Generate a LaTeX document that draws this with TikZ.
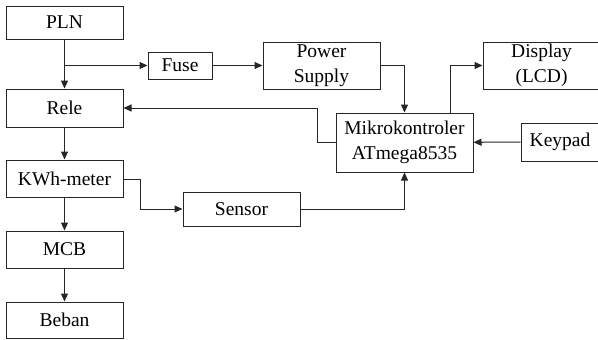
\documentclass[tikz,border=0pt]{standalone}
\usepackage{fontspec}
\setmainfont{Liberation Serif}
\usetikzlibrary{arrows.meta,calc}
\begin{document}
\begin{tikzpicture}[x=1pt,y=-1pt,
  box/.style={draw=black!85,line width=1pt,inner sep=0pt,align=center,
    font=\fontsize{19.5}{24.5}\selectfont},
  conn/.style={draw=black!85,line width=1pt,-{Triangle[length=8pt,width=7pt]}}]
\useasboundingbox (0,0) rectangle (598,340);
\node[box,minimum width=117,minimum height=33] (pln) at (64.5,22.5) {PLN};
\node[box,minimum width=64,minimum height=27] (fuse) at (180,65.5) {Fuse};
\node[box,minimum width=117,minimum height=47] (ps) at (321.5,65.5) {Power\\Supply};
\node[box,minimum width=121,minimum height=47] (disp) at (543.5,65.5)
  {\makebox[117pt]{Display}\hspace*{4pt}\\\makebox[117pt]{(LCD)}\hspace*{4pt}};
\node[box,minimum width=117,minimum height=38] (rele) at (64.5,108) {Rele};
\node[box,minimum width=137,minimum height=59] (mik) at (404.5,142.5) {Mikrokontroler\\ATmega8535};
\node[box,minimum width=82,minimum height=38] (key) at (562,142) {\makebox[78pt]{Keypad}\hspace*{4pt}};
\node[box,minimum width=117,minimum height=37] (kwh) at (64.5,178.5) {KWh-meter};
\node[box,minimum width=117,minimum height=34] (sens) at (241.5,209) {Sensor};
\node[box,minimum width=117,minimum height=37] (mcb) at (64.5,249.5) {MCB};
\node[box,minimum width=117,minimum height=36] (beban) at (64.5,320) {Beban};
\coordinate (br) at (64.5,65.5);
\coordinate (mtop) at ($(mik.north)+(45.5,0)$);
\draw[conn] (pln) -- (rele);
\draw[conn] (br) -- (fuse);
\draw[conn] (fuse) -- (ps);
\draw[conn] (ps.east) -| (mik.north);
\draw[conn] (mtop) |- (disp.west);
\draw[conn] (mik.west) -- ++(-18,0) |- (rele.east);
\draw[conn] (key) -- (mik);
\draw[conn] ($(kwh.east)+(0,0.5)$) -- ++(17,0) |- (sens.west);
\draw[conn] (sens.east) -| (mik.south);
\draw[conn] (rele) -- (kwh);
\draw[conn] (kwh) -- (mcb);
\draw[conn] (mcb) -- (beban);
\end{tikzpicture}
\end{document}
